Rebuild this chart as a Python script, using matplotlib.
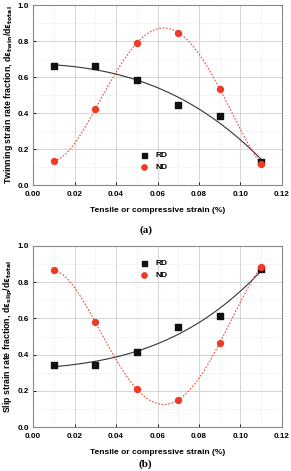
import numpy as np
import matplotlib.pyplot as plt
from matplotlib.ticker import MultipleLocator

strain = [0.01, 0.03, 0.05, 0.07, 0.09, 0.11]

twin_rd = [0.66, 0.66, 0.585, 0.445, 0.385, 0.13]
twin_nd = [0.135, 0.42, 0.79, 0.845, 0.535, 0.115]

slip_rd = [0.34, 0.345, 0.415, 0.555, 0.615, 0.875]
slip_nd = [0.865, 0.58, 0.21, 0.15, 0.465, 0.885]

plt.rcParams['font.family'] = ['Liberation Sans', 'DejaVu Sans']
plt.rcParams['font.weight'] = 'bold'
plt.rcParams['axes.labelweight'] = 'bold'
plt.rcParams['mathtext.default'] = 'bf'

fig = plt.figure(figsize=(2.91, 4.71), dpi=100)
ax1 = fig.add_axes([33 / 291, 1 - 185 / 471, 249 / 291, 180 / 471])
ax2 = fig.add_axes([33 / 291, 1 - 427 / 471, 249 / 291, 181 / 471])


def draw_panel(ax, rd, nd, ylab, rd_deg, nd_deg, legloc):
    xs = np.linspace(strain[0], strain[-1], 200)
    ax.plot(xs, np.polyval(np.polyfit(strain, rd, rd_deg), xs), color='#333333', lw=0.8, zorder=2)
    ax.plot(xs, np.polyval(np.polyfit(strain, nd, nd_deg), xs), color='#f04a3a', lw=0.8, ls=(0, (1.5, 1.5)), zorder=2)
    ax.scatter(strain, rd, marker='s', s=16, color='#111111', zorder=3, label='RD')
    ax.scatter(strain, nd, marker='o', s=18, color='#f03a25', zorder=3, label='ND')

    ax.set_xlim(0, 0.12)
    ax.set_ylim(0, 1.0)
    ax.xaxis.set_major_locator(MultipleLocator(0.02))
    ax.yaxis.set_major_locator(MultipleLocator(0.2))
    ax.xaxis.set_minor_locator(MultipleLocator(0.01))
    ax.yaxis.set_minor_locator(MultipleLocator(0.1))
    ax.xaxis.set_major_formatter(lambda v, p: f"{v:.2f}")
    ax.yaxis.set_major_formatter(lambda v, p: f"{v:.1f}")
    ax.grid(True, which='major', color='#cfcfcf', lw=0.6)
    ax.grid(True, which='minor', color='#dddddd', lw=0.5, ls=':')
    ax.set_axisbelow(True)
    ax.tick_params(which='both', direction='in', labelsize=5.8, length=2, width=0.6)
    ax.tick_params(axis='x', pad=4)
    ax.tick_params(axis='y', pad=3)
    ax.tick_params(which='minor', length=0)
    for s in ax.spines.values():
        s.set_color('#888888')
        s.set_linewidth(0.8)
    ax.set_xlabel('Tensile or compressive strain (%)', fontsize=6, labelpad=7, fontweight='bold')
    ax.set_ylabel(ylab, fontsize=6.3, labelpad=2, fontweight='bold')
    ax.legend(loc=legloc, frameon=False, prop={'size': 6, 'weight': 'bold'},
              handletextpad=0.3, labelspacing=0.5, markerscale=0.9)


draw_panel(ax1, twin_rd, twin_nd,
           r'Twinning strain rate fraction, d$\varepsilon_{twin}$/d$\varepsilon_{total}$',
           3, 4, (0.4, 0.06))
draw_panel(ax2, slip_rd, slip_nd,
           r'Slip strain rate fraction, d$\varepsilon_{slip}$/d$\varepsilon_{total}$',
           3, 4, (0.4, 0.8))

fig.text(0.5, 1 - 230 / 471, '(a)', ha='center', va='center', fontsize=8,
         family=['Liberation Serif', 'DejaVu Serif'], weight='bold')
fig.text(0.5, 1 - 464 / 471, '(b)', ha='center', va='center', fontsize=8,
         family=['Liberation Serif', 'DejaVu Serif'], weight='bold')

fig.savefig('out.png', dpi=100)
